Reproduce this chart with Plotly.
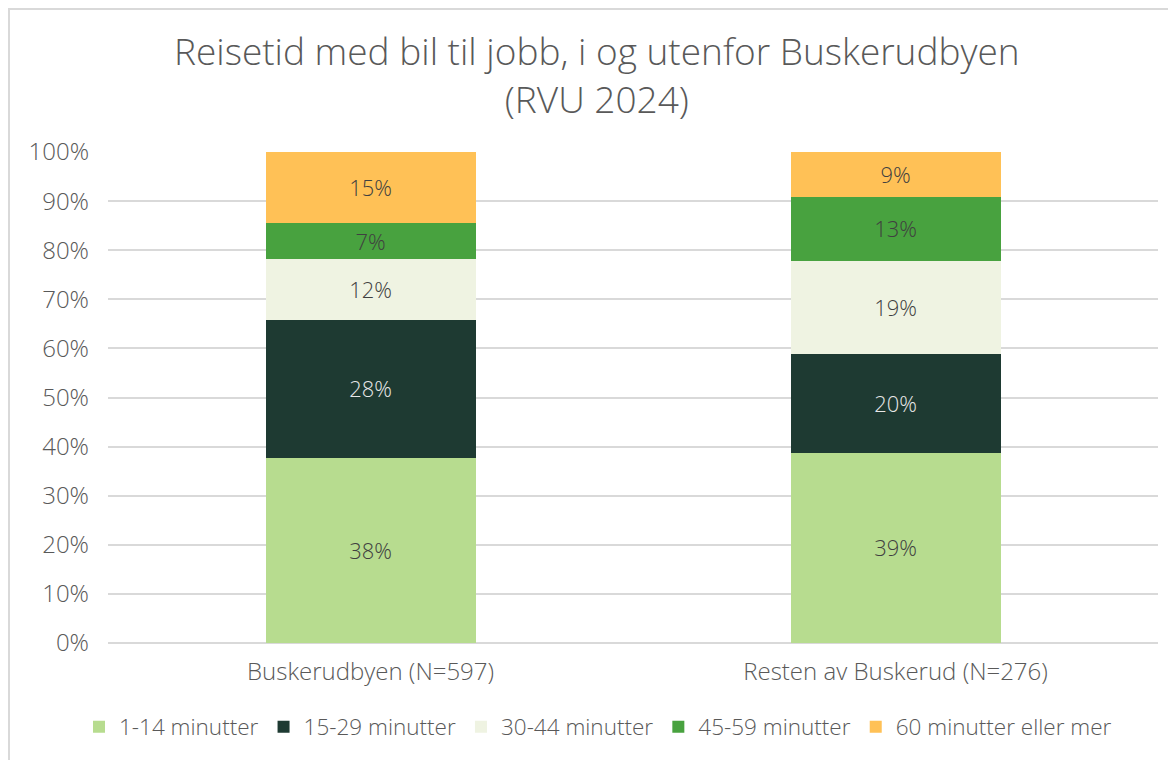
import plotly.graph_objects as go

categories = ["Buskerudbyen (N=597)", "Resten av Buskerud (N=276)"]
series_names = ["1-14 minutter", "15-29 minutter", "30-44 minutter", "45-59 minutter", "60 minutter eller mer"]
v_1_14 = [37.7, 38.7]
v_15_29 = [28.1, 20.2]
v_30_44 = [12.4, 18.9]
v_45_59 = [7.3, 13.0]
v_60 = [14.5, 9.2]
labels_1_14 = ["38%", "39%"]
labels_15_29 = ["28%", "20%"]
labels_30_44 = ["12%", "19%"]
labels_45_59 = ["7%", "13%"]
labels_60 = ["15%", "9%"]
y_ticks = [0, 10, 20, 30, 40, 50, 60, 70, 80, 90, 100]
y_tick_labels = ["0%", "10%", "20%", "30%", "40%", "50%", "60%", "70%", "80%", "90%", "100%"]
title_lines = ["Reisetid med bil til jobb, i og utenfor Buskerudbyen", "(RVU 2024)"]

colors = ["#B7DC8F", "#1E3A32", "#EFF3E2", "#48A23F", "#FFC156"]
text_colors = ["#404040", "#E8E8E8", "#404040", "#404040", "#404040"]
values = [v_1_14, v_15_29, v_30_44, v_45_59, v_60]
labels = [labels_1_14, labels_15_29, labels_30_44, labels_45_59, labels_60]

FONT = "Open Sans"
WEIGHT = 300
W, H = 1168, 752
L, R, T, B = 100, 18, 144, 117
PW, PH = W - L - R, H - T - B

fig = go.Figure()
for name, vals, txt, col, tcol in zip(series_names, values, labels, colors, text_colors):
    fig.add_trace(go.Bar(
        x=categories, y=vals, name=name, text=txt, textposition="inside",
        insidetextanchor="middle", textangle=0,
        textfont=dict(family=FONT, size=23.5, color=tcol, weight=WEIGHT),
        marker=dict(color=col, line=dict(width=0)),
        hoverinfo="skip",
    ))

annotations = [dict(
    text="<br>".join(title_lines), xref="paper", yref="paper",
    x=(589 - L) / PW, y=(T + PH - 66.5) / PH,
    xanchor="center", yanchor="middle", showarrow=False, align="center",
    font=dict(family=FONT, size=37, color="#595959", weight=WEIGHT),
)]

fig.update_layout(
    barmode="stack",
    bargap=0.6,
    width=W, height=H,
    margin=dict(l=L, r=R, t=T, b=B),
    paper_bgcolor="white", plot_bgcolor="white",
    font=dict(family=FONT, color="#595959", size=24, weight=WEIGHT),
    uniformtext=dict(minsize=10, mode="show"),
    legend=dict(
        orientation="h", x=(590 - L) / PW, xanchor="center",
        y=(635 - 719) / PH, yanchor="middle",
        font=dict(family=FONT, size=22.5, color="#595959", weight=WEIGHT),
        traceorder="normal", itemwidth=30,
    ),
    annotations=annotations,
    shapes=[dict(type="rect", xref="paper", yref="paper",
                 x0=(1 - L) / PW, x1=(W + 20 - L) / PW, y0=-B / PH - 0.1, y1=(T - 1) / PH + 1,
                 line=dict(color="#D9D9D9", width=2), fillcolor="rgba(0,0,0,0)", layer="below")],
)
fig.update_yaxes(
    range=[0, 100], tickvals=y_ticks, ticktext=y_tick_labels,
    showgrid=True, gridcolor="#D9D9D9", gridwidth=1.5,
    zeroline=True, zerolinecolor="#D9D9D9", zerolinewidth=1.5,
    ticks="", ticklabelstandoff=18, tickfont=dict(family=FONT, size=24, color="#595959", weight=WEIGHT),
    showline=False,
)
fig.update_xaxes(
    showgrid=False, showline=False, ticks="",
    tickfont=dict(family=FONT, size=24, color="#595959", weight=WEIGHT),
    ticklabelstandoff=12,
)
fig.write_html("out.html")
